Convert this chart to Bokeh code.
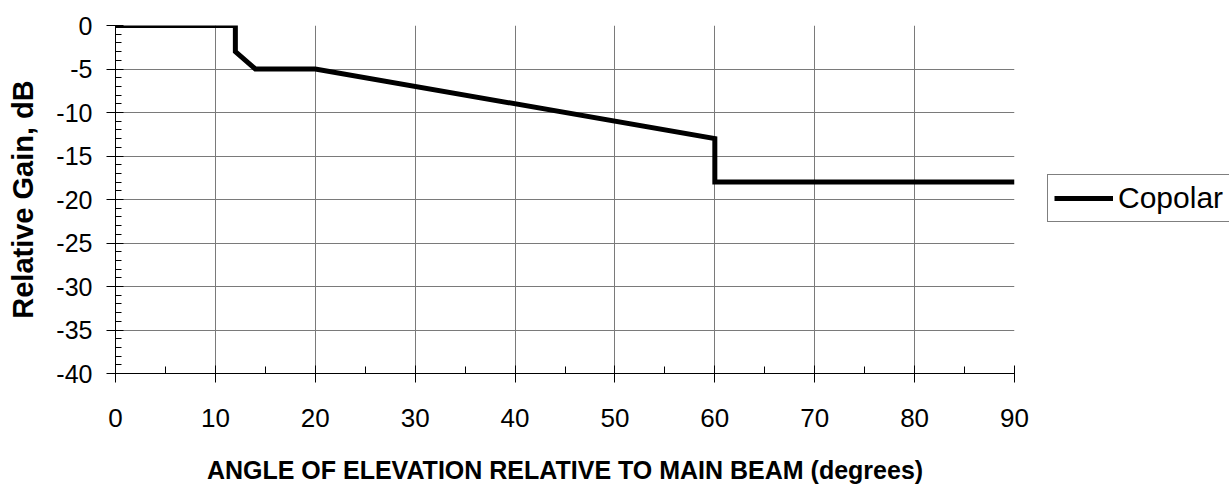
from bokeh.plotting import figure
from bokeh.layouts import row
from bokeh.models import (Range1d, Legend, LegendItem, SingleIntervalTicker,
                          ColumnDataSource, PrintfTickFormatter)
from bokeh.embed import file_html
from bokeh.resources import INLINE

# Data
angle = [0, 12, 12, 14, 20, 60, 60, 90]
gain = [0, 0, -3, -5, -5, -13, -18, -18]
series_name = "Copolar"
x_label = "ANGLE OF ELEVATION RELATIVE TO MAIN BEAM (degrees)"
y_label = "Relative Gain, dB"

FONT = "Liberation Sans"

# Main chart
p = figure(width=1040, height=488, output_backend="svg", toolbar_location=None,
           x_range=Range1d(0, 90), y_range=Range1d(-40, 0),
           min_border_left=115, min_border_right=26, min_border_top=25, min_border_bottom=115)
p.outline_line_color = None
p.background_fill_color = "white"
p.border_fill_color = "white"

src = ColumnDataSource(dict(x=angle, y=gain))
p.line("x", "y", source=src, line_color="black", line_width=5, line_join="miter")

p.xaxis.ticker = SingleIntervalTicker(interval=10, num_minor_ticks=2)
p.yaxis.ticker = SingleIntervalTicker(interval=5, num_minor_ticks=5)
p.xaxis.formatter = PrintfTickFormatter(format="%d")
p.yaxis.formatter = PrintfTickFormatter(format="%d")

for ax in (p.xaxis, p.yaxis):
    ax.axis_line_color = "black"
    ax.axis_line_width = 1
    ax.major_tick_line_color = "black"
    ax.minor_tick_line_color = "black"
    ax.major_tick_in = 8
    ax.major_tick_out = 9
    ax.minor_tick_out = 0
    ax.major_label_text_font = FONT
    ax.major_label_text_color = "black"
    ax.axis_label_text_font = FONT
    ax.axis_label_text_font_style = "bold"
    ax.axis_label_text_color = "black"

p.xaxis.minor_tick_in = 7
p.yaxis.minor_tick_in = 6
p.xaxis.major_label_text_font_size = "26px"
p.yaxis.major_label_text_font_size = "25px"
p.xaxis.major_label_standoff = 26
p.yaxis.major_label_standoff = 14
p.xaxis.axis_label = x_label
p.yaxis.axis_label = y_label
p.xaxis.axis_label_text_font_size = "25px"
p.yaxis.axis_label_text_font_size = "29px"
p.xaxis.axis_label_standoff = 26
p.yaxis.axis_label_standoff = 14

p.xgrid.grid_line_color = "#7a7a7a"
p.ygrid.grid_line_color = "#7a7a7a"
p.xgrid.grid_line_width = 1
p.ygrid.grid_line_width = 1

# Legend panel (to the right of the chart); its line renderer lies outside its view
q = figure(width=189, height=488, output_backend="svg", toolbar_location=None,
           x_axis_location=None, y_axis_location=None, min_border=0,
           x_range=Range1d(-20, -10), y_range=Range1d(-40, 0))
q.outline_line_color = None
q.grid.visible = False
q.background_fill_color = "white"
q.border_fill_color = "white"
legend_glyph = q.line("x", "y", source=src, line_color="black", line_width=5)

legend = Legend(items=[LegendItem(label=series_name, renderers=[legend_glyph])],
                location=(7, 151), margin=0, padding=6, spacing=0,
                glyph_width=59, glyph_height=20, label_standoff=5,
                label_text_font=FONT, label_text_font_size="30px",
                label_text_color="black",
                border_line_color="black", border_line_width=1,
                background_fill_color="white", background_fill_alpha=1.0)
q.add_layout(legend, "center")

layout = row(p, q)
open("out.html", "w").write(file_html(layout, INLINE))
